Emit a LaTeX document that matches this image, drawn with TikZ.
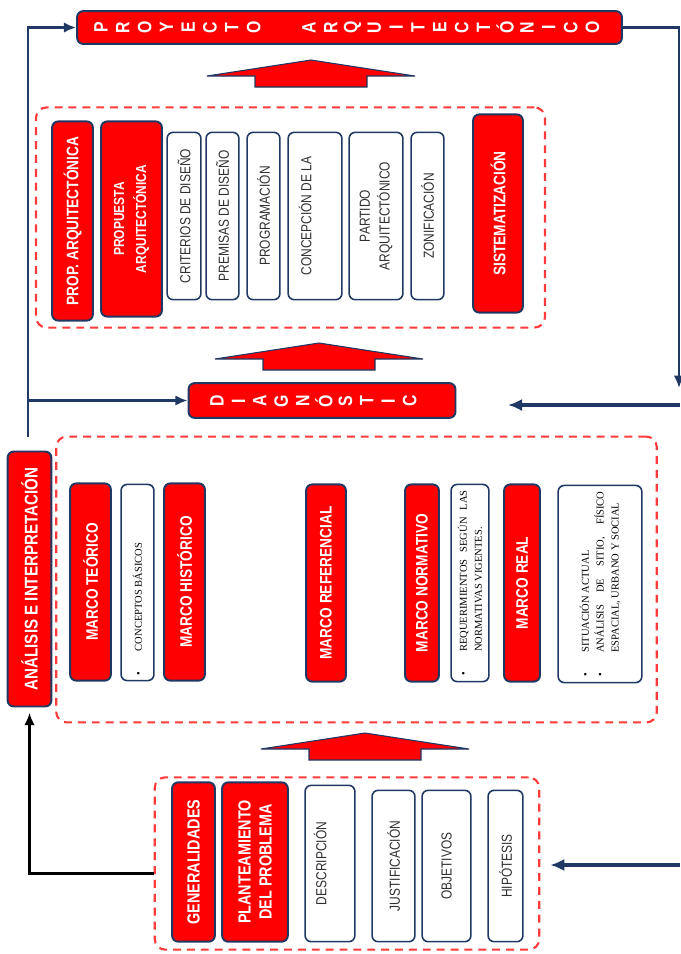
\documentclass[tikz,border=0pt]{standalone}
\usepackage{fontspec}
\setmainfont{Liberation Sans}
\newfontfamily\narrowfont[FakeStretch=0.82]{Liberation Sans}
\newfontfamily\serifnote{Liberation Serif}
\usetikzlibrary{calc, arrows.meta}
\definecolor{xred}{HTML}{FF0000}
\definecolor{xnavy}{HTML}{1F3864}
\definecolor{xdash}{HTML}{FF3A3A}
\definecolor{xgray}{HTML}{303030}
\newcommand\notebullet{\llap{\makebox[13.6pt][l]{\textbullet}}}
\tikzset{
	dim/.style 2 args={minimum width=#1*0.5669pt, minimum height=#2*0.5669pt},
	titlebox/.style={draw=xnavy, fill=xred, line width=1.1pt, rounded corners=3.5pt, inner sep=0pt},
	redbox/.style={draw=xnavy, fill=xred, line width=1.1pt, rounded corners=3.5pt, rotate=90, inner sep=0pt, align=center, text=white, font=\narrowfont\bfseries\fontsize{9.5}{12}\selectfont},
	whitebox/.style={draw=xnavy, fill=white, line width=0.9pt, rounded corners=3.5pt, rotate=90, inner sep=0pt, align=center, text=xgray, font=\narrowfont\fontsize{8.3}{11.3}\selectfont},
	notes/.style={text width=105.4pt, align=justify, text=black, font=\serifnote\fontsize{6}{8.5}\selectfont},
	group/.style={draw=xdash, line width=1.2pt, dash pattern=on 4.5pt off 3.4pt, rounded corners=6pt},
	letter/.style={rotate=90, text=white, inner sep=0pt, font=\narrowfont\bfseries\fontsize{11}{11}\selectfont},
	flow/.style={draw=xnavy, line width=1.6pt, -{Latex[length=7pt, width=6pt]}},
	flowbold/.style={draw=xnavy, line width=2.2pt, -{Latex[length=8pt, width=7pt]}},
	back/.style={draw=black, line width=1.7pt, -{Latex[length=7pt, width=6pt]}},
	blockarrow/.pic={
		\draw[fill=xred, draw=xnavy, line width=0.6pt] (-104,16) -- (0,0) -- (104,16) -- (56,16) -- (56,27) -- (-56,27) -- (-56,16) -- cycle;
	},
}

\begin{document}
\begin{tikzpicture}[x=0.02cm, y=-0.02cm]
	\useasboundingbox (0,0) rectangle (680,954);

	\node[group, dim={511}{221}] (sgroup) at (290.5,217.5) {};
	\node[group, dim={603}{287}] (mgroup) at (356.5,579.5) {};
	\node[group, dim={386}{173}] (pgroup) at (347,863.5) {};

	\node[titlebox, dim={547}{33}] (proy) at (349.5,27.5) {};
	\foreach \l [count=\i from 0] in {P,R,O,Y,E,C,T,O} {
			\node[letter] (pa\i) at (101+21.8*\i,27.5) {\l};
		}
	\foreach \l [count=\i from 0] in {A,R,Q,U,I,T,E,C,T,Ó,N,I,C,O} {
			\node[letter] (pb\i) at (309+21.8*\i,27.5) {\l};
		}
	\pic at (311,60) {blockarrow};

	\node[redbox, dim={200}{41}] (propa) at (72.5,221) {PROP. ARQUITECTÓNICA};
	\node[redbox, dim={196}{61}, font=\narrowfont\bfseries\fontsize{8.3}{12.5}\selectfont] (propb) at (131.5,219) {PROPUESTA\\ARQUITECTÓNICA};
	\node[whitebox, dim={168}{34}] (crit) at (184,216) {CRITERIOS DE DISEÑO};
	\node[whitebox, dim={168}{33}] (prem) at (222.5,216) {PREMISAS DE DISEÑO};
	\node[whitebox, dim={168}{33}] (prog) at (263.5,216) {PROGRAMACIÓN};
	\node[whitebox, dim={168}{54}] (conc) at (315,216) {CONCEPCIÓN DE LA\\~};
	\node[whitebox, dim={168}{54}] (part) at (376,216) {PARTIDO\\ARQUITECTÓNICO};
	\node[whitebox, dim={168}{33}] (zoni) at (427.5,216) {ZONIFICACIÓN};
	\node[redbox, dim={199}{50}] (sist) at (498,213.5) {SISTEMATIZACIÓN};

	\pic at (319,343) {blockarrow};
	\node[titlebox, dim={268}{35}] (diag) at (322,400.5) {};
	\foreach \l [count=\i from 0] in {D,I,A,G,N,Ó,S,T,I,C} {
			\node[letter] (da\i) at (217+21.4*\i,401) {\l};
		}

	\node[redbox, dim={256}{44}, font=\narrowfont\bfseries\fontsize{10.5}{12}\selectfont] (ana) at (29.5,579) {ANÁLISIS E INTERPRETACIÓN};
	\node[redbox, dim={198}{41}] (mteo) at (90.5,582) {MARCO TEÓRICO};
	\node[whitebox, notes, dim={197}{33}] (conb) at (137.5,582.5) {\noindent\hangindent=13.6pt\hangafter=0\tolerance=10000 \notebullet CONCEPTOS BÁSICOS\par};
	\node[redbox, dim={198}{41}] (mhis) at (184.5,582) {MARCO HISTÓRICO};
	\node[redbox, dim={198}{40}] (mref) at (326,583) {MARCO REFERENCIAL};
	\node[redbox, dim={198}{34}] (mnor) at (422,583) {MARCO NORMATIVO};
	\node[whitebox, notes, dim={198}{38}] (req) at (470,583) {\noindent\hangindent=13.6pt\hangafter=0\tolerance=10000\hbadness=10000 \notebullet REQUERIMIENTOS SEGÚN LAS\linebreak NORMATIVAS VIGENTES.\par};
	\node[redbox, dim={198}{36}] (mrea) at (522,583) {MARCO REAL};
	\node[whitebox, notes, dim={198}{84}] (sit) at (600,584) {\noindent\hangindent=13.6pt\hangafter=0\tolerance=10000\hbadness=10000 \notebullet SITUACIÓN ACTUAL\\ \notebullet ANÁLISIS DE SITIO, FÍSICO\linebreak ESPACIAL, URBANO Y SOCIAL\par};

	\pic at (365,733) {blockarrow};

	\node[redbox, dim={160}{43}, font=\narrowfont\bfseries\fontsize{10}{12}\selectfont] (gen) at (193.5,862) {GENERALIDADES};
	\node[redbox, dim={160}{66}, font=\narrowfont\bfseries\fontsize{10}{12}\selectfont] (plan) at (255,862) {PLANTEAMIENTO\\DEL PROBLEMA};
	\node[whitebox, dim={157}{50}] (desc) at (330,863.5) {DESCRIPCIÓN\\~};
	\node[whitebox, dim={152}{43}] (just) at (393.5,866) {JUSTIFICACIÓN};
	\node[whitebox, dim={152}{49}] (obj) at (446.5,866) {OBJETIVOS};
	\node[whitebox, dim={152}{35}] (hip) at (505.5,866) {HIPÓTESIS};

	\coordinate (lstart) at (28,437);
	\draw[flow] (lstart) |- (proy.west);
	\draw[flow] (lstart |- diag.west) -- (diag.west);
	\coordinate (rdown) at (679,388);
	\draw[flow] (proy.east) -| (rdown);
	\coordinate (rin) at (680,405);
	\coordinate (rtip) at (508,405);
	\draw[flowbold] (rin) -- (rtip);
	\coordinate (pin) at (680,865);
	\draw[flowbold, shorten >=5.7pt] (pin) -- (pgroup.east |- pin);
	\draw[back, shorten >=3pt] ($(pgroup.west)+(0,9.5)$) -| (ana.west);
\end{tikzpicture}
\end{document}
